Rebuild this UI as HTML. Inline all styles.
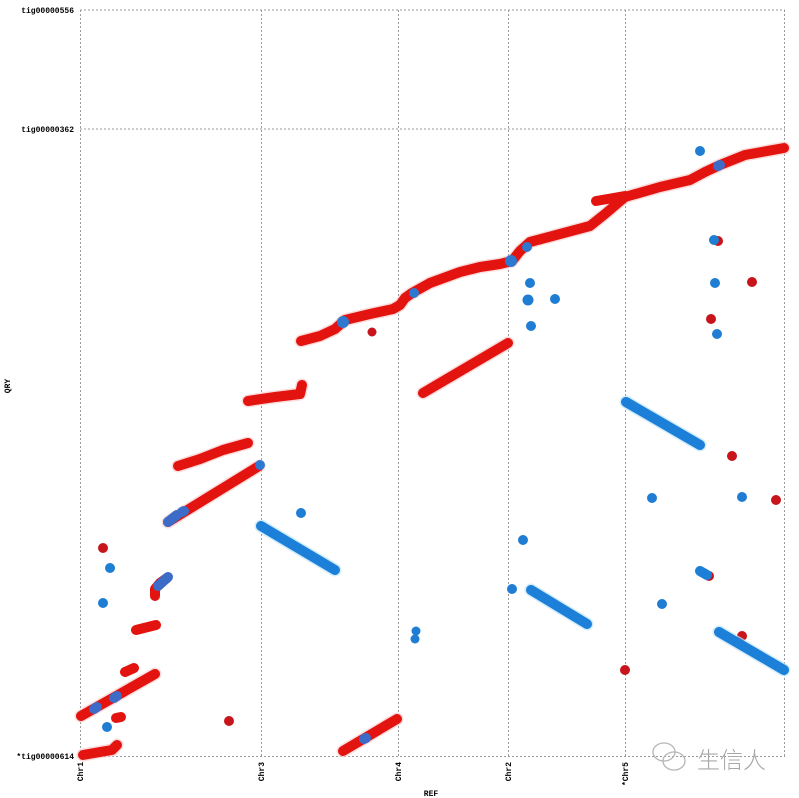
<!DOCTYPE html>
<html><head><meta charset="utf-8"><style>
html,body{margin:0;padding:0;background:#fff;}
svg{display:block;}
text{font-family:"Liberation Mono",monospace;}
</style></head><body>
<svg width="799" height="798" viewBox="0 0 799 798" xmlns="http://www.w3.org/2000/svg">
<rect width="799" height="798" fill="#fff"/>
<g stroke="#9a9a9a" stroke-width="1" stroke-dasharray="2,2" fill="none">
<line x1="80" y1="10" x2="785" y2="10"/>
<line x1="80" y1="129" x2="785" y2="129"/>
<line x1="80" y1="756.5" x2="785" y2="756.5"/>
<line x1="80.5" y1="10" x2="80.5" y2="757"/>
<line x1="261.5" y1="10" x2="261.5" y2="757"/>
<line x1="398.5" y1="10" x2="398.5" y2="757"/>
<line x1="508.5" y1="10" x2="508.5" y2="757"/>
<line x1="625.5" y1="10" x2="625.5" y2="757"/>
<line x1="784.5" y1="10" x2="784.5" y2="757"/>
</g>
<g font-size="8" fill="#000" font-weight="bold">
<text x="74" y="13" text-anchor="end">tig00000556</text>
<text x="74" y="132" text-anchor="end">tig00000362</text>
<text x="74" y="759" text-anchor="end">*tig00000614</text>
<text x="431" y="796" text-anchor="middle">REF</text>
<text transform="translate(10,386) rotate(-90)" text-anchor="middle">QRY</text>
<text transform="translate(83,762) rotate(-90)" text-anchor="end">Chr1</text>
<text transform="translate(264,762) rotate(-90)" text-anchor="end">Chr3</text>
<text transform="translate(401,762) rotate(-90)" text-anchor="end">Chr4</text>
<text transform="translate(511,762) rotate(-90)" text-anchor="end">Chr2</text>
<text transform="translate(628,762) rotate(-90)" text-anchor="end">*Chr5</text>
</g>
<!-- red halo -->
<g stroke="#f9c4c4" stroke-width="13" stroke-linecap="round" stroke-linejoin="round" fill="none" opacity="0.6">
<polyline points="83,755 100,752 112,750 117,745"/>
<line x1="81" y1="716" x2="155" y2="674"/>
<line x1="168" y1="522" x2="259" y2="466"/>
<polyline points="178,466 200,459 223,450 248,443"/>
<polyline points="248,401 275,397 300,394 302,385"/>
<polyline points="301,341 320,336 335,329 345,320 370,314 393,309 400,305 405,298 412,293 430,283 460,272 480,267 500,264 512,261 520,251 530,242 560,234 590,226 605,214 625,197 660,187 690,180 705,172 720,165 745,155 784,148"/>
<line x1="423" y1="393" x2="508" y2="343"/>
<line x1="343" y1="751" x2="397" y2="719"/>
</g>
<!-- red series -->
<g stroke="#e3140f" stroke-width="10" stroke-linecap="round" stroke-linejoin="round" fill="none">
<polyline points="83,755 100,752 112,750 117,745"/>
<line x1="116" y1="718" x2="121" y2="717"/>
<line x1="81" y1="716" x2="155" y2="674"/>
<line x1="125" y1="672" x2="134" y2="668"/>
<line x1="136" y1="630" x2="156" y2="625"/>
<polyline points="155,596 155,589 160,583 167,578"/>
<line x1="168" y1="522" x2="259" y2="466"/>
<polyline points="178,466 200,459 223,450 248,443"/>
<polyline points="248,401 275,397 300,394 302,385"/>
<polyline points="301,341 320,336 335,329 345,320 370,314 393,309 400,305 405,298 412,293 430,283 460,272 480,267 500,264 512,261 520,251 530,242 560,234 590,226 605,214 625,197 660,187 690,180 705,172 720,165 745,155 784,148"/>
<line x1="596" y1="201" x2="625" y2="196"/>
<line x1="423" y1="393" x2="508" y2="343"/>
<line x1="343" y1="751" x2="397" y2="719"/>
</g>
<g fill="#c8141b">
<circle cx="103" cy="548" r="5"/>
<circle cx="229" cy="721" r="5"/>
<circle cx="372" cy="332" r="4.5"/>
<circle cx="718" cy="241" r="5"/>
<circle cx="752" cy="282" r="5"/>
<circle cx="711" cy="319" r="5"/>
<circle cx="732" cy="456" r="5"/>
<circle cx="776" cy="500" r="5"/>
<circle cx="742" cy="636" r="5"/>
<circle cx="625" cy="670" r="5"/>
<circle cx="709" cy="576" r="5"/>
</g>
<!-- blue patches on red -->
<g stroke="#3d6cc8" stroke-width="10" stroke-linecap="round" fill="none">
<line x1="94" y1="709" x2="97" y2="707"/>
<line x1="114" y1="698" x2="117" y2="696"/>
<line x1="158" y1="586" x2="168" y2="577"/>
<line x1="168" y1="522" x2="177" y2="515"/>
<line x1="182" y1="512" x2="184" y2="511"/>
<line x1="364" y1="739" x2="366" y2="738"/>
<line x1="718" y1="166" x2="720" y2="165"/>
</g>
<g fill="#2f78d0">
<circle cx="260" cy="465" r="5"/>
<circle cx="343" cy="322" r="6"/>
<circle cx="414" cy="293" r="5"/>
<circle cx="511" cy="261" r="6"/>
<circle cx="527" cy="247" r="5"/>
</g>
<!-- blue halo -->
<g stroke="#bfe6fa" stroke-width="13" stroke-linecap="round" fill="none" opacity="0.7">
<line x1="261" y1="526" x2="335" y2="570"/>
<line x1="626" y1="402" x2="700" y2="445"/>
<line x1="531" y1="590" x2="587" y2="624"/>
<line x1="719" y1="632" x2="784" y2="670"/>
</g>
<!-- blue series -->
<g stroke="#1d80d8" stroke-width="10" stroke-linecap="round" fill="none">
<line x1="261" y1="526" x2="335" y2="570"/>
<line x1="626" y1="402" x2="700" y2="445"/>
<line x1="531" y1="590" x2="587" y2="624"/>
<line x1="719" y1="632" x2="784" y2="670"/>
<line x1="700" y1="571" x2="707" y2="575"/>
</g>
<g fill="#1f7dd3">
<circle cx="110" cy="568" r="5"/>
<circle cx="103" cy="603" r="5"/>
<circle cx="107" cy="727" r="5"/>
<circle cx="301" cy="513" r="5"/>
<circle cx="416" cy="631" r="4.5"/>
<circle cx="415" cy="639" r="4.5"/>
<circle cx="700" cy="151" r="5"/>
<circle cx="714" cy="240" r="5"/>
<circle cx="715" cy="283" r="5"/>
<circle cx="717" cy="334" r="5"/>
<circle cx="530" cy="283" r="5"/>
<circle cx="528" cy="300" r="5.5"/>
<circle cx="555" cy="299" r="5"/>
<circle cx="531" cy="326" r="5"/>
<circle cx="652" cy="498" r="5"/>
<circle cx="742" cy="497" r="5"/>
<circle cx="523" cy="540" r="5"/>
<circle cx="512" cy="589" r="5"/>
<circle cx="662" cy="604" r="5"/>
</g>
<!-- watermark -->
<g stroke="#b5b5b5" stroke-width="1.3" fill="none">
<ellipse cx="664" cy="752" rx="11" ry="9"/>
<ellipse cx="674" cy="761" rx="11" ry="9"/>
</g>
<text x="697" y="768" font-size="23" fill="#a8a8a8" style="font-family:'Noto Sans CJK SC','WenQuanYi Zen Hei',sans-serif;font-weight:300">生信人</text>
</svg>
</body></html>
